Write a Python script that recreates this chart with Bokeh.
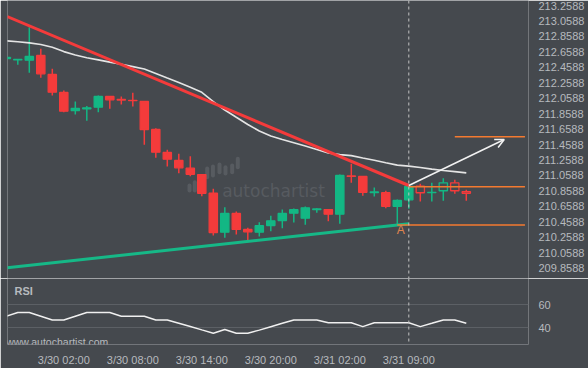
from bokeh.plotting import figure
from bokeh.layouts import column
from bokeh.models import Range1d, FixedTicker, NumeralTickFormatter, Span, Label, Arrow, OpenHead
from bokeh.embed import file_html
from bokeh.resources import INLINE

# ---------------- data ----------------
opens = [212.573, 212.555, 212.551, 212.612, 212.366, 212.133, 211.900, 211.922, 211.943, 212.081,
         212.042, 212.032, 212.016, 211.654, 211.356, 211.253, 211.153, 211.071, 210.829, 210.325,
         210.567, 210.360, 210.325, 210.411, 210.476, 210.571, 210.506, 210.618, 210.618, 210.558,
         211.052, 211.046, 210.838, 210.836, 210.660, 210.744, 210.920, 210.838, 210.861, 210.964,
         210.851]
highs = [212.586, 212.560, 212.978, 212.698, 212.440, 212.159, 212.016, 211.958, 212.094, 212.081,
         212.081, 212.129, 212.016, 211.671, 211.391, 211.339, 211.308, 211.075, 210.886, 210.648,
         210.593, 210.382, 210.454, 210.537, 210.618, 210.631, 210.657, 210.635, 210.625, 211.071,
         211.210, 211.052, 210.903, 210.861, 210.748, 210.925, 210.951, 210.964, 211.024, 211.003,
         210.873]
lows = [212.573, 212.491, 212.388, 212.323, 212.094, 211.878, 211.848, 211.767, 211.878, 211.922,
        211.977, 211.952, 211.456, 211.288, 211.175, 211.088, 211.049, 210.791, 210.282, 210.252,
        210.295, 210.217, 210.269, 210.338, 210.376, 210.450, 210.420, 210.576, 210.467, 210.433,
        210.964, 210.796, 210.787, 210.635, 210.424, 210.628, 210.722, 210.722, 210.731, 210.822,
        210.731]
closes = [212.586, 212.560, 212.599, 212.375, 212.137, 211.891, 211.926, 211.935, 212.081, 212.038,
          212.036, 212.027, 211.654, 211.360, 211.270, 211.158, 211.075, 210.829, 210.321, 210.567,
          210.360, 210.330, 210.408, 210.472, 210.567, 210.615, 210.640, 210.625, 210.558, 211.059,
          211.046, 210.842, 210.845, 210.660, 210.735, 210.916, 210.835, 210.841, 210.964, 210.861,
          210.829]
moving_avg = [212.802, 212.789, 212.775, 212.755, 212.718, 212.662, 212.619, 212.582, 212.555, 212.526,
              212.498, 212.468, 212.437, 212.379, 212.320, 212.262, 212.201, 212.135, 212.016, 211.906,
              211.812, 211.719, 211.634, 211.570, 211.524, 211.482, 211.439, 211.395, 211.350, 211.329,
              211.316, 211.286, 211.257, 211.224, 211.193, 211.180, 211.162, 211.141, 211.123, 211.109,
              211.093]
rsi = [50, 53.3, 53.3, 50, 46.7, 46.7, 50, 53.3, 53.3, 53.3,
       50, 50, 50, 46.7, 46.7, 43.8, 40.9, 37.9, 35, 38.3,
       35, 35, 37.7, 40.7, 43.7, 46.7, 46.7, 46.7, 44.2, 44.2,
       44.2, 40.8, 44.2, 44.2, 44.2, 44.2, 40.8, 43.7, 46.7, 46.7,
       43.8]

price_ticks = [213.2588, 213.0588, 212.8588, 212.6588, 212.4588, 212.2588, 212.0588, 211.8588,
               211.6588, 211.4588, 211.2588, 211.0588, 210.8588, 210.6588, 210.4588, 210.2588,
               210.0588, 209.8588]
date_ticks = [5, 11, 17, 23, 29, 35]
date_labels = ["3/30 02:00", "3/30 08:00", "3/30 14:00", "3/30 20:00", "3/31 02:00", "3/31 09:00"]
rsi_ticks = [40, 60]

resistance_x = [0.08, 35]
resistance_y = [213.116, 210.929]
support_x = [0.08, 35]
support_y = [209.864, 210.433]

breakout_index = 35
hollow_from = 36
level_end = 45.1
target_level = 211.559
target_start = 39
breakout_level = 210.912
breakout_start = 35
a_level = 210.418
a_start = 34
arrow_start = (35, 210.929)
arrow_end = (43.3, 211.524)
a_label_pos = (34.3, 210.347)

watermark_pos = (18.77, 210.855)
logo_x = [15.93, 16.39, 17.47, 17.97, 18.54, 19.06, 19.64, 20.13]
logo_top = [210.929, 210.972, 211.149, 211.175, 211.201, 211.166, 211.188, 211.275]
logo_bottom = [210.864, 210.864, 211.036, 211.059, 211.101, 211.084, 211.101, 211.166]

# ---------------- style ----------------
BG = "#45494e"
UP = "#13b784"
DOWN = "#f43b3b"
ORANGE = "#f47a30"
TXT = "#b7babe"
FONT = "Liberation Sans"

n = len(opens)
xs = list(range(n))
cols = [UP if closes[i] >= opens[i] else DOWN for i in xs]
fills = [BG if i >= hollow_from else cols[i] for i in xs]
tops = [max(opens[i], closes[i]) for i in xs]
bots = [min(opens[i], closes[i]) for i in xs]

xr = Range1d(0.104, 45.409)

p = figure(width=588, height=278, x_range=xr, y_range=Range1d(209.7254, 213.3235),
           y_axis_location="right", x_axis_location=None, toolbar_location=None,
           output_backend="svg", min_border_left=7, min_border_right=60,
           min_border_top=0, min_border_bottom=0,
           background_fill_color=BG, border_fill_color=BG, outline_line_color=None)
p.grid.visible = False

ax = p.yaxis[0]
ax.ticker = FixedTicker(ticks=price_ticks)
ax.formatter = NumeralTickFormatter(format="0.0000")
ax.axis_line_color = None
ax.major_tick_line_color = None
ax.minor_tick_line_color = None
ax.major_label_standoff = 4
ax.major_label_text_color = TXT
ax.major_label_text_font = FONT
ax.major_label_text_font_size = "11px"

# watermark
p.segment(logo_x, logo_bottom, logo_x, logo_top, line_color="#575b60", line_width=4, line_cap="round")
p.add_layout(Label(x=watermark_pos[0], y=watermark_pos[1], text="autochartist",
                   text_font="DejaVu Sans", text_font_size="17px",
                   text_color="#575b60", text_baseline="alphabetic"))

# candles
p.segment(xs, highs, xs, lows, line_color=cols, line_width=1.5)
p.vbar(x=xs, width=0.72, top=tops, bottom=bots, fill_color=fills, line_color=cols, line_width=1.3)

# moving average
p.line(xs, moving_avg, line_color="#e4e4e4", line_width=1.6)

# trend lines
p.line(resistance_x, resistance_y, line_color=DOWN, line_width=3)
p.line(support_x, support_y, line_color="#16b887", line_width=3)

# levels
p.segment([target_start, breakout_start, a_start], [target_level, breakout_level, a_level],
          [level_end] * 3, [target_level, breakout_level, a_level], line_color=ORANGE, line_width=1.5)

p.add_layout(Arrow(end=OpenHead(size=9, line_color="#f2f2f2", line_width=1.5),
                   x_start=arrow_start[0], y_start=arrow_start[1],
                   x_end=arrow_end[0], y_end=arrow_end[1],
                   line_color="#f2f2f2", line_width=1.5))
p.add_layout(Label(x=a_label_pos[0], y=a_label_pos[1], text="A", text_font=FONT,
                   text_font_size="12px", text_color="#e0844f", text_align="center",
                   text_baseline="middle"))

p.add_layout(Span(location=breakout_index, dimension="height", line_color="#c4c4c4",
                  line_width=1, line_dash="3 3"))

# ---------------- RSI panel ----------------
r = figure(width=588, height=90, x_range=xr, y_range=Range1d(25, 83.33),
           y_axis_location="right", toolbar_location=None, output_backend="svg",
           min_border_left=7, min_border_right=60, min_border_top=0, min_border_bottom=20,
           background_fill_color=BG, border_fill_color=BG, outline_line_color=None)
r.xgrid.visible = False
r.ygrid.ticker = FixedTicker(ticks=rsi_ticks)
r.ygrid.grid_line_color = "#5c6065"
r.ygrid.grid_line_width = 1

for a in (r.xaxis[0], r.yaxis[0]):
    a.axis_line_color = None
    a.major_tick_line_color = None
    a.minor_tick_line_color = None
    a.major_label_text_color = TXT
    a.major_label_text_font = FONT
    a.major_label_text_font_size = "11px"
r.yaxis[0].ticker = FixedTicker(ticks=rsi_ticks)
r.yaxis[0].major_label_standoff = 4
r.xaxis[0].ticker = FixedTicker(ticks=date_ticks)
r.xaxis[0].major_label_overrides = dict(zip(date_ticks, date_labels))
r.xaxis[0].major_label_standoff = 3

r.line(xs, rsi, line_color="#f0f0f0", line_width=1.5)
r.add_layout(Span(location=breakout_index, dimension="height", line_color="#c4c4c4",
                  line_width=1, line_dash="3 3"))
r.add_layout(Label(x=0.713, y=72.5, text="RSI", text_font=FONT, text_font_size="11px",
                   text_font_style="bold", text_color=TXT, text_baseline="middle"))
r.add_layout(Label(x=-0.01, y=27.5, text="www.autochartist.com", text_font=FONT,
                   text_font_size="10.5px", text_color=TXT, text_baseline="middle"))

layout = column(p, r, spacing=0)
open("out.html", "w").write(file_html(layout, INLINE))
